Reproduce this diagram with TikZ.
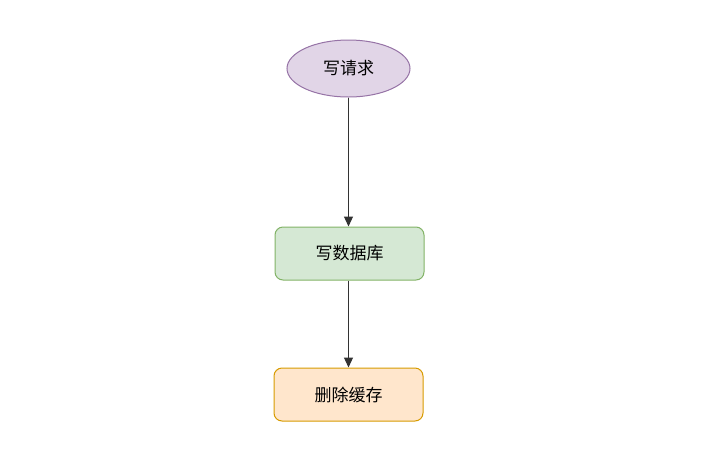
\documentclass[tikz,border=0pt]{standalone}
\usepackage{fontspec}
\newfontfamily\cjk{Noto Sans CJK SC}
\usetikzlibrary{shapes.geometric,arrows.meta}
\definecolor{purpfill}{HTML}{E1D5E7}
\definecolor{purpline}{HTML}{9673A6}
\definecolor{greenfill}{HTML}{D5E8D4}
\definecolor{greenline}{HTML}{82B366}
\definecolor{orfill}{HTML}{FFE6CC}
\definecolor{orline}{HTML}{D79B00}
\definecolor{arr}{HTML}{333333}
\tikzset{
  lbl/.style={font=\cjk\fontsize{17}{19}\selectfont, text=black},
  startnode/.style={ellipse, draw=purpline, fill=purpfill, line width=1pt, minimum width=123pt, minimum height=57pt, inner sep=0pt, lbl},
  procbox/.style={rounded corners=8pt, line width=1pt, minimum width=149pt, minimum height=53pt, inner sep=0pt, lbl},
  conn/.style={draw=arr, line width=1.2pt, -{Triangle[length=10pt,width=9pt]}}
}
\begin{document}
\begin{tikzpicture}[x=1pt,y=-1pt]
\useasboundingbox (0,0) rectangle (713,456);
\node[startnode] (req) at (348.5,68.5) {写请求};
\node[procbox, draw=greenline, fill=greenfill] (db) at (349.5,253.5) {写数据库};
\node[procbox, draw=orline, fill=orfill] (cache) at (348.5,394.5) {删除缓存};
\draw[conn] (req) -- (req |- db.north);
\draw[conn] (db.south -| cache) -- (cache);
\end{tikzpicture}
\end{document}
